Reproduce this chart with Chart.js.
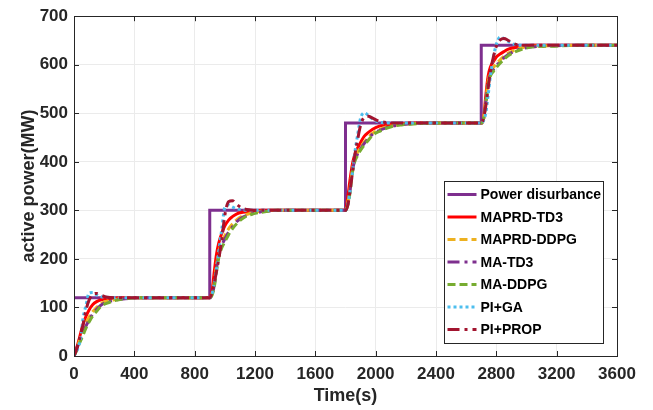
<!DOCTYPE html>
<html>
<head>
<meta charset="utf-8">
<script src="https://cdn.jsdelivr.net/npm/chart.js@4.4.1/dist/chart.umd.min.js"></script>
<style>
    html, body { margin: 0; padding: 0; background: #ffffff; }
    #power-chart { display: block; }
</style>
</head>
<body>
<canvas id="power-chart" width="653" height="410"></canvas>
<script>
// sample times (s) shared by the response curves
const timeS = [
    0, 15, 30, 45, 60, 80, 100, 125, 150, 180, 220, 270, 340, 450, 650,
    900, 915, 930, 945, 960, 980, 1000, 1025, 1050, 1080, 1120, 1170, 1240, 1350, 1550,
    1800, 1815, 1830, 1845, 1860, 1880, 1900, 1925, 1950, 1980, 2020, 2070, 2140, 2250, 2450,
    2700, 2715, 2730, 2745, 2760, 2780, 2800, 2825, 2850, 2880, 2920, 2970, 3040, 3150, 3350,
    3600,
];

// load disturbance (stepped)
const stepTime = [0, 900, 1800, 2700, 3600];
const stepPower = [120, 300, 480, 640, 640];

const maprdTd3 = [
    0, 14, 30, 48, 65, 82, 95, 106, 112, 116, 118, 119, 120, 120, 120,
    120, 134, 174, 210, 233, 253, 268, 280, 287, 293, 296, 298, 300, 300, 300,
    300, 327, 363, 394, 413, 428, 440, 453, 460, 467, 473, 476, 478, 480, 480,
    480, 488, 536, 576, 595, 606, 616, 622, 627, 632, 635, 638, 640, 640, 640,
    640,
];
const maprdDdpg = [
    0, 12, 26, 39, 52, 68, 80, 92, 100, 108, 113, 116, 119, 120, 120,
    120, 128, 152, 187, 214, 234, 248, 262, 272, 281, 289, 294, 298, 300, 300,
    300, 316, 345, 383, 404, 419, 430, 441, 450, 459, 466, 472, 476, 479, 480,
    480, 488, 526, 564, 584, 594, 602, 610, 617, 624, 630, 635, 638, 639, 640,
    640,
];
const maTd3 = [
    0, 11, 24, 35, 47, 62, 74, 87, 96, 105, 111, 115, 118, 120, 120,
    120, 126, 146, 180, 208, 228, 241, 255, 266, 277, 286, 292, 297, 300, 300,
    300, 313, 340, 379, 401, 416, 427, 438, 447, 457, 464, 470, 475, 479, 480,
    480, 488, 523, 560, 580, 590, 598, 606, 614, 621, 628, 633, 637, 639, 640,
    640,
];
const maDdpg = [
    0, 10, 22, 32, 43, 58, 70, 83, 92, 103, 109, 114, 118, 120, 120,
    120, 125, 142, 174, 203, 223, 235, 250, 262, 273, 284, 291, 296, 300, 300,
    300, 311, 336, 376, 399, 413, 424, 435, 444, 455, 462, 469, 475, 478, 480,
    480, 488, 520, 557, 576, 586, 594, 603, 611, 619, 626, 632, 637, 638, 640,
    640,
];
const piGa = [
    0, 8, 20, 38, 78, 105, 130, 131, 126, 122, 121, 120, 120, 120, 120,
    120, 128, 150, 180, 215, 262, 306, 311, 307, 303, 301, 300, 300, 300, 300,
    300, 310, 340, 375, 415, 455, 490, 501, 496, 488, 482, 480, 480, 480, 480,
    480, 485, 500, 535, 575, 615, 642, 657, 654, 648, 642, 640, 640, 640, 640,
    640,
];
const piProp = [
    0, 12, 28, 45, 65, 95, 115, 127, 129, 125, 121, 120, 120, 120, 120,
    120, 130, 150, 175, 200, 240, 290, 318, 320, 312, 304, 301, 300, 300, 300,
    300, 310, 340, 375, 410, 445, 475, 492, 494, 490, 484, 481, 480, 480, 480,
    480, 490, 515, 550, 585, 615, 638, 651, 654, 650, 643, 640, 640, 640, 640,
    640,
];

const seriesNames = [
    "Power disurbance",
    "MAPRD-TD3",
    "MAPRD-DDPG",
    "MA-TD3",
    "MA-DDPG",
    "PI+GA",
    "PI+PROP",
];

const fontFamily = "'Liberation Sans', Arial, Helvetica, sans-serif";
const textColor = "#262626";

function toPoints(xs, ys) {
    return xs.map((x, i) => ({ x: x, y: ys[i] }));
}

function lineSet(label, data, color, dash, order) {
    return {
        label: label,
        data: data,
        borderColor: color,
        backgroundColor: color,
        borderWidth: 3,
        borderDash: dash,
        borderCapStyle: "butt",
        pointRadius: 0,
        cubicInterpolationMode: "monotone",
        order: order,
    };
}

const powerSet = lineSet(seriesNames[0], toPoints(stepTime, stepPower), "#7E2F8E", [], 6);
powerSet.stepped = true;

const datasets = [
    powerSet,
    lineSet(seriesNames[1], toPoints(timeS, maprdTd3), "#FF0000", [], 5),
    lineSet(seriesNames[2], toPoints(timeS, maprdDdpg), "#EDB120", [8, 4], 4),
    lineSet(seriesNames[3], toPoints(timeS, maTd3), "#7E2F8E", [12, 5, 3, 5], 3),
    lineSet(seriesNames[4], toPoints(timeS, maDdpg), "#77AC30", [8, 4], 2),
    lineSet(seriesNames[5], toPoints(timeS, piGa), "#4DBEEE", [3, 3], 1),
    lineSet(seriesNames[6], toPoints(timeS, piProp), "#A2142F", [12, 5, 3, 5], 0),
];

// MATLAB style box with inward ticks
const framePlugin = {
    id: "frame",
    afterDatasetsDraw(chart) {
        const { ctx, chartArea: a, scales } = chart;
        ctx.save();
        ctx.strokeStyle = textColor;
        ctx.lineWidth = 1;
        ctx.beginPath();
        scales.x.ticks.forEach((t) => {
            const px = Math.round(scales.x.getPixelForValue(t.value)) + 0.5;
            ctx.moveTo(px, a.bottom);
            ctx.lineTo(px, a.bottom - 5);
            ctx.moveTo(px, a.top);
            ctx.lineTo(px, a.top + 5);
        });
        scales.y.ticks.forEach((t) => {
            const py = Math.round(scales.y.getPixelForValue(t.value)) + 0.5;
            ctx.moveTo(a.left, py);
            ctx.lineTo(a.left + 5, py);
            ctx.moveTo(a.right, py);
            ctx.lineTo(a.right - 5, py);
        });
        ctx.stroke();
        ctx.strokeRect(Math.round(a.left) + 0.5, Math.round(a.top) + 0.5,
            Math.round(a.right - a.left), Math.round(a.bottom - a.top));
        ctx.restore();
    },
};

// legend box inside the plot, lower right
const boxLegendPlugin = {
    id: "boxLegend",
    afterDraw(chart) {
        const { ctx, chartArea: a } = chart;
        const w = 159;
        const h = 162;
        const x0 = Math.round(a.right - 14 - w) + 0.5;
        const y0 = Math.round(a.bottom - 13 - h) + 0.5;
        ctx.save();
        ctx.fillStyle = "#ffffff";
        ctx.fillRect(x0, y0, w, h);
        ctx.strokeStyle = textColor;
        ctx.lineWidth = 1;
        ctx.strokeRect(x0, y0, w, h);
        ctx.font = "bold 14px " + fontFamily;
        ctx.textBaseline = "middle";
        ctx.textAlign = "left";
        chart.data.datasets.forEach((ds, i) => {
            const y = y0 + 13 + i * 22.5;
            ctx.beginPath();
            ctx.strokeStyle = ds.borderColor;
            ctx.lineWidth = 3;
            ctx.lineCap = "butt";
            ctx.setLineDash(ds.borderDash);
            ctx.moveTo(x0 + 3, y);
            ctx.lineTo(x0 + 32, y);
            ctx.stroke();
            ctx.setLineDash([]);
            ctx.fillStyle = "#000000";
            ctx.fillText(ds.label, x0 + 36, y + 1);
        });
        ctx.restore();
    },
};

const config = {
    type: "line",
    data: { datasets: datasets },
    plugins: [framePlugin, boxLegendPlugin],
    options: {
        responsive: false,
        animation: false,
        events: [],
        layout: { padding: { left: 0, top: 12, right: 36, bottom: 0 } },
        plugins: {
            legend: { display: false },
            tooltip: { enabled: false },
        },
        scales: {
            x: {
                type: "linear",
                min: 0,
                max: 3600,
                afterFit: (s) => { s.height = 54; },
                ticks: {
                    stepSize: 400,
                    padding: 8,
                    maxRotation: 0,
                    color: textColor,
                    callback: (v) => String(v),
                    font: { family: fontFamily, size: 17, weight: "bold" },
                },
                grid: { color: "#ebebeb", lineWidth: 1, drawTicks: false },
                border: { display: false },
                title: {
                    display: true,
                    text: "Time(s)",
                    color: textColor,
                    padding: { top: 0, bottom: 3 },
                    font: { family: fontFamily, size: 18, weight: "bold" },
                },
            },
            y: {
                type: "linear",
                min: 0,
                max: 700,
                afterFit: (s) => { s.width = 74; },
                ticks: {
                    stepSize: 100,
                    padding: 6,
                    color: textColor,
                    callback: (v) => String(v),
                    font: { family: fontFamily, size: 17, weight: "bold" },
                },
                grid: { color: "#ebebeb", lineWidth: 1, drawTicks: false },
                border: { display: false },
                title: {
                    display: true,
                    text: "active power(MW)",
                    color: textColor,
                    padding: { top: 18, bottom: 0 },
                    font: { family: fontFamily, size: 18, weight: "bold" },
                },
            },
        },
    },
};

let powerChartInstance = null;

function drawPowerChart() {
    if (powerChartInstance) {
        powerChartInstance.destroy();
    }
    powerChartInstance = new Chart(document.getElementById("power-chart"), config);
}

window.addEventListener("DOMContentLoaded", drawPowerChart);
</script>
</body>
</html>
